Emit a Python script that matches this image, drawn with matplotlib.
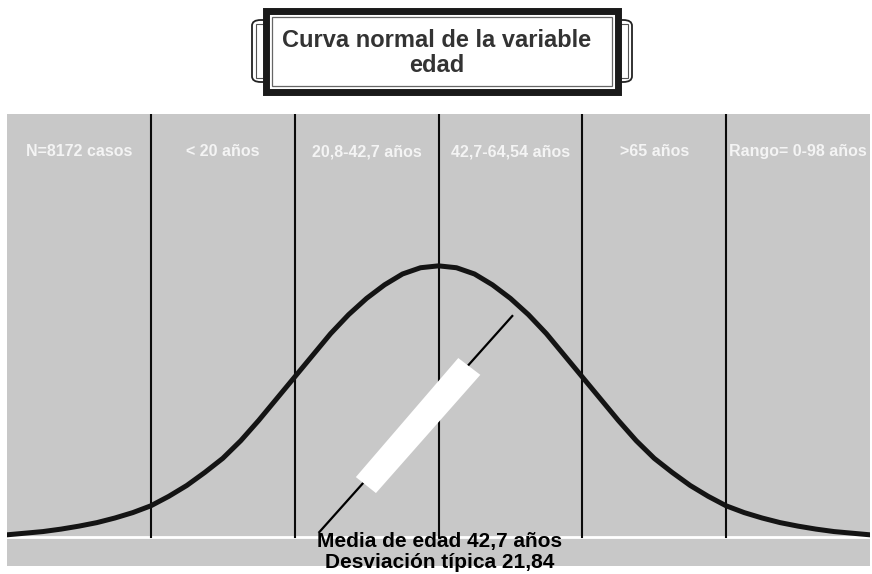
import matplotlib
matplotlib.use("Agg")
import matplotlib.pyplot as plt
from matplotlib.patches import Rectangle, Polygon, FancyBboxPatch

plt.rcParams['font.family'] = ['Liberation Sans', 'DejaVu Sans']

# ---- data ----
mean_age = 42.7
sd_age = 21.84
# ages (years) at which the curve height was read
curve_ages = [-22.82, -20.09, -17.36, -14.63, -11.90, -9.17, -6.44, -3.71,
              -0.98, 1.75, 4.48, 7.21, 9.94, 12.67, 15.40, 18.13,
              20.86, 23.59, 26.32, 29.05, 31.78, 34.51, 37.24, 39.97,
              42.70,
              45.43, 48.16, 50.89, 53.62, 56.35, 59.08, 61.81, 64.54,
              67.27, 70.00, 72.73, 75.46, 78.19, 80.92, 83.65, 86.38,
              89.11, 91.84, 94.57, 97.30, 100.03, 102.76, 105.49, 108.22]
# relative curve height (peak = 100)
curve_height = [0.8, 1.4, 2.0, 2.9, 4.0, 5.3, 7.0, 9.0,
                11.5, 15.0, 19.0, 23.8, 29.0, 35.5, 43.0, 51.0,
                59.0, 67.0, 75.0, 82.0, 88.0, 93.0, 97.0, 99.3,
                100.0,
                99.3, 97.0, 93.0, 88.0, 82.0, 75.0, 67.0, 59.0,
                51.0, 43.0, 35.5, 29.0, 23.8, 19.0, 15.0, 11.5,
                9.0, 7.0, 5.3, 4.0, 2.9, 2.0, 1.4, 0.8]
# boundaries of the groups (vertical lines)
boundaries = [-0.98, 20.86, 42.7, 64.54, 86.38]
group_labels = ["N=8172 casos", "< 20 años", "20,8-42,7 años",
                "42,7-64,54 años", ">65 años", "Rango= 0-98 años"]
title = "Curva normal de la variable\nedad"
note = "Media de edad 42,7 años\nDesviación típica 21,84"

x_min, x_max = mean_age - 3 * sd_age, mean_age + 3 * sd_age

fig = plt.figure(figsize=(8.72, 5.74), dpi=100)
fig.patch.set_facecolor("white")
ax = fig.add_axes([7 / 872, 8 / 574, 863 / 872, 452 / 574])
ax.set_facecolor("#c8c8c8")
ax.set_xlim(x_min, x_max)
ax.set_ylim(-10.7, 156)
for s in ax.spines.values():
    s.set_visible(False)
ax.set_xticks([])
ax.set_yticks([])

# baseline
ax.axhline(0, color="white", lw=2, zorder=1)
# vertical group lines
for b in boundaries:
    ax.plot([b, b], [0, 156], color="#0a0a0a", lw=1.5, zorder=2)

# curve
ax.plot(curve_ages, curve_height, color="#141414", lw=3.6, solid_capstyle="round",
        solid_joinstyle="round", zorder=3)

# group labels
edges = [x_min] + boundaries + [x_max]
for i, lab in enumerate(group_labels):
    cx = (edges[i] + edges[i + 1]) / 2
    ax.text(cx, 142, lab, color="#f4f4f4", fontsize=11.5, fontweight="bold",
            ha="center", va="center", zorder=4)

# callout line and white box
ax.plot([53.9, 24.6], [81.5, 1.8], color="black", lw=1.6, zorder=4)
ax.add_patch(Polygon([[45.7, 66.0], [49.05, 59.8], [33.2, 16.2], [30.15, 22.1]],
                     closed=True, facecolor="white", edgecolor="none", zorder=5))

# note text
fig.text(440 / 872, 1 - 552 / 574, note, ha="center", va="center", fontsize=15,
         fontweight="bold", color="black", linespacing=1.08)


def fx(px):
    return px / 872


def fy(py):
    return 1 - py / 574


# title frame: side brackets (double thin lines)
for x0, x1 in [(252, 274), (610, 632)]:
    fig.add_artist(FancyBboxPatch((fx(x0), fy(82)), fx(x1) - fx(x0), fy(20) - fy(82),
                                  boxstyle="round,pad=0,rounding_size=0.01",
                                  transform=fig.transFigure, facecolor="white",
                                  edgecolor="#222222", lw=1.3))
for x0, x1 in [(256, 270), (614, 628)]:
    fig.add_artist(Rectangle((fx(x0), fy(78)), fx(x1) - fx(x0), fy(24) - fy(78),
                             transform=fig.transFigure, facecolor="none",
                             edgecolor="#555555", lw=0.8))
# thick main frame
fig.add_artist(Rectangle((fx(266), fy(92)), fx(618) - fx(266), fy(11.5) - fy(92),
                         transform=fig.transFigure, facecolor="white",
                         edgecolor="#1a1a1a", lw=5))
# inner thin line
fig.add_artist(Rectangle((fx(272), fy(86)), fx(612) - fx(272), fy(17) - fy(86),
                         transform=fig.transFigure, facecolor="white",
                         edgecolor="#666666", lw=0.9))
fig.text(fx(437), fy(53), title, ha="center", va="center", fontsize=17,
         fontweight="bold", color="#333333", linespacing=1.12)

fig.savefig("out.png", dpi=100)
